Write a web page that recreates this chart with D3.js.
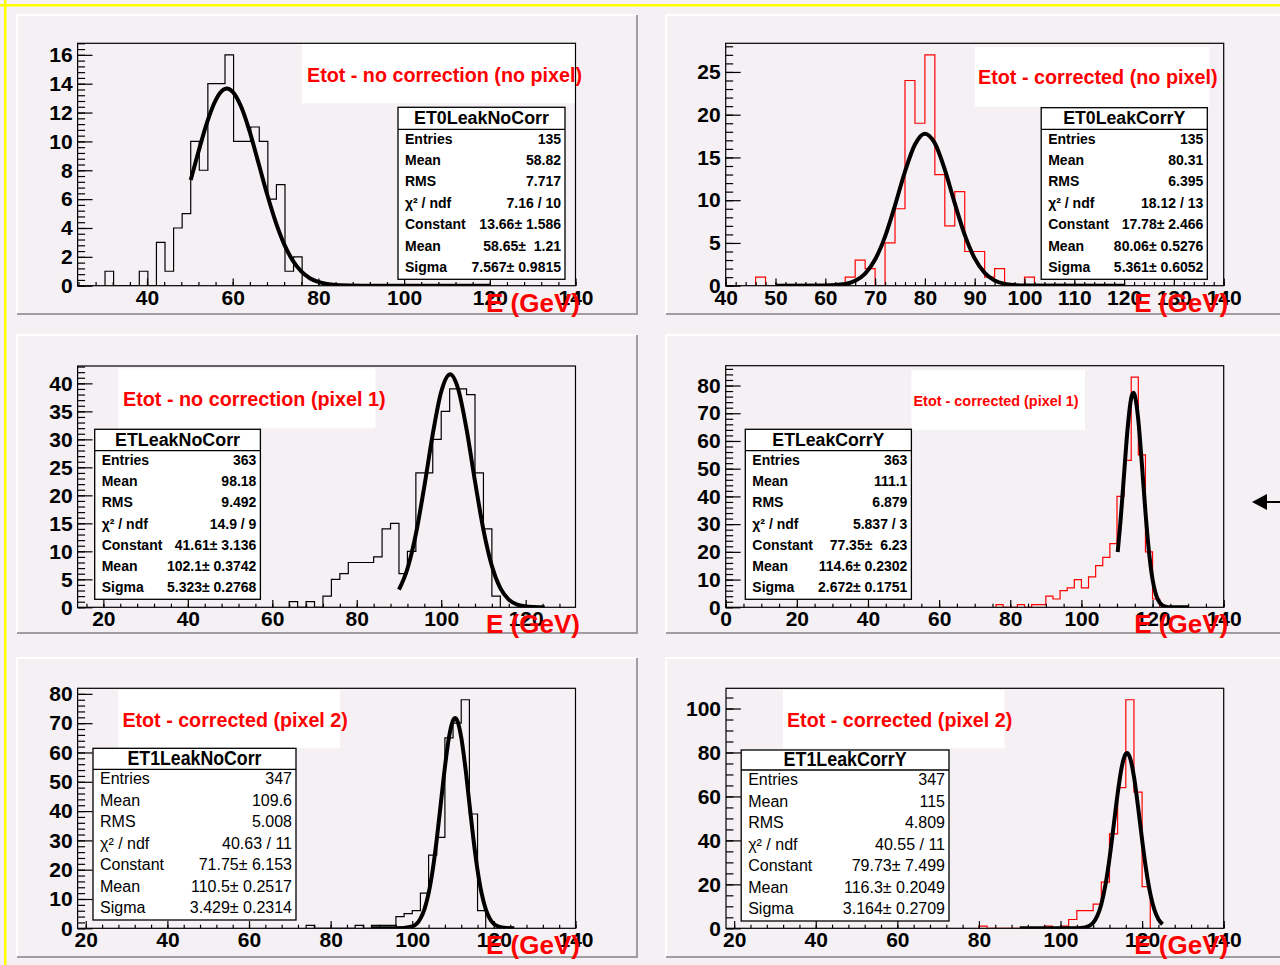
<!DOCTYPE html>
<html>
<head>
<meta charset="utf-8">
<script src="https://cdnjs.cloudflare.com/ajax/libs/d3/7.8.5/d3.min.js"></script>
<style>
  body { margin: 0; background: #f4f0f4; }
  svg { display: block; }
</style>
</head>
<body>
<div id="canvas"></div>
<script>
// histogram data: counts per 2 GeV bin, starting at the low edge given
var binWidth = 2;

var p1Start = 30.2;
var p1Counts = [1,0,0,0,1,0,3,1,4,5,10,8,14,14,16,10,10,11,10,6,7,1,2];
var p2Start = 46;
var p2Counts = [1,0,0,0,0,0,0,0,0,1,3,2,0,5,9,24,19,27,13,7,11,4,4,1,2,0,0,1];
var p3Start = 64;
var p3Counts = [1,0,1,0,2,5,6,8,8,8,9,14,15,6,10,24,24,30,35,39,39,38,24,14,2];
var p4Start = 76;
var p4Counts = [1,0,0,1,0,1,1,4,3,6,7,10,7,11,15,18,23,40,53,83,55,20,3];
var p5Start = 74;
var p5Counts = [1,0,0,0,0,0,1,0,1,1,1,4,5,6,12,25,31,65,70,78,39,6];
var p6Start = 80;
var p6Counts = [1,0,0,0,0,0,0,0,1,0,1,4,8,8,11,21,43,64,104,62,19];

// gaussian fit curves
var p1FitX = [50.2,52,54,56,58,58.65,60,62,64,66,68,70,72,74,76,78,80,82,85,90,120];
var p1FitY = [7.32,9.28,11.31,12.85,13.61,13.66,13.44,12.38,10.64,8.52,6.37,4.44,2.88,1.75,0.99,0.52,0.26,0.12,0.03,0,0];
var p2FitX = [50,60,64,66,68,70,72,74,76,78,80,82,84,86,88,90,92,94,96,98,100,120];
var p2FitY = [0,0.02,0.20,0.57,1.42,3.06,5.74,9.39,13.35,16.51,17.78,16.65,13.57,9.62,5.94,3.19,1.49,0.60,0.21,0.07,0.02,0];
var p3FitX = [90,92,94,96,98,100,102,102.1,104,106,108,110,112,114,116,118,120,122,124.5];
var p3FitY = [3.14,6.88,13.07,21.58,30.93,38.49,41.6,41.61,39.04,31.82,22.51,13.84,7.38,3.42,1.38,0.48,0.15,0.04,0];
var p4FitX = [110.2,111,112,113,114,114.6,115,116,117,118,119,120,121,122,123,124,125,130];
var p4FitY = [19.93,31.21,48.17,64.66,75.42,77.35,76.49,67.43,51.68,34.43,19.93,10.03,4.39,1.67,0.55,0.16,0.04,0];
var p5FitX = [90,96,100,102,103,104,105,106,107,108,109,110,110.5,111,112,113,114,115,116,117,118,119,121,123,125];
var p5FitY = [0,0.01,0.66,3.32,6.56,11.90,19.82,30.33,42.62,55.0,65.2,70.99,71.75,70.99,65.2,55.0,42.62,30.33,19.82,11.90,6.56,3.32,0.66,0.09,0.01];
var p6FitX = [90,104,106,108,109,110,111,112,113,114,115,116,116.3,117,118,119,120,121,122,123,124,125];
var p6FitY = [0,0.04,0.40,2.55,5.57,10.99,19.60,31.66,46.28,61.22,73.28,79.37,79.73,77.80,69.01,55.40,40.24,26.45,15.74,8.47,4.13,1.82];

// labels and stat boxes
var p1Label = "Etot - no correction (no pixel)";
var p2Label = "Etot - corrected (no pixel)";
var p3Label = "Etot - no correction (pixel 1)";
var p4Label = "Etot - corrected (pixel 1)";
var p5Label = "Etot - corrected (pixel 2)";
var p6Label = "Etot - corrected (pixel 2)";

var p1Title = "ET0LeakNoCorr";
var p2Title = "ET0LeakCorrY";
var p3Title = "ETLeakNoCorr";
var p4Title = "ETLeakCorrY";
var p5Title = "ET1LeakNoCorr";
var p6Title = "ET1LeakCorrY";

var statNames = ["Entries", "Mean", "RMS", "\u03c7\u00b2 / ndf", "Constant", "Mean", "Sigma"];
var p1Stats = ["135", "58.82", "7.717", "7.16 / 10", "13.66\u00b1 1.586", "58.65\u00b1  1.21", "7.567\u00b1 0.9815"];
var p2Stats = ["135", "80.31", "6.395", "18.12 / 13", "17.78\u00b1 2.466", "80.06\u00b1 0.5276", "5.361\u00b1 0.6052"];
var p3Stats = ["363", "98.18", "9.492", "14.9 / 9", "41.61\u00b1 3.136", "102.1\u00b1 0.3742", "5.323\u00b1 0.2768"];
var p4Stats = ["363", "111.1", "6.879", "5.837 / 3", "77.35\u00b1  6.23", "114.6\u00b1 0.2302", "2.672\u00b1 0.1751"];
var p5Stats = ["347", "109.6", "5.008", "40.63 / 11", "71.75\u00b1 6.153", "110.5\u00b1 0.2517", "3.429\u00b1 0.2314"];
var p6Stats = ["347", "115", "4.809", "40.55 / 11", "79.73\u00b1 7.499", "116.3\u00b1 0.2049", "3.164\u00b1 0.2709"];

var axisTitle = "E (GeV)";

// set up svg
var svgWidth = 1280;
var svgHeight = 965;
var bg = "#f4f0f4";
var font = "'Liberation Sans', Arial, Helvetica, sans-serif";

var svg = d3.select("#canvas")
  .append("svg")
  .attr("width", svgWidth)
  .attr("height", svgHeight);

svg.append("rect").attr("width", svgWidth).attr("height", svgHeight).attr("fill", bg);

// panel layouts
var panels = [
  { pad: [17, 15, 637, 314], frame: [77.6, 43.3, 575.5, 285.7], xDomain: [23.8, 140], yMax: 16.8,
    xMajor: [40, 140, 20], xMinor: [24, 140, 4], yMajor: [0, 16, 2], yMinor: [0, 16.8, 0.4],
    start: p1Start, counts: p1Counts, color: "#000", fitX: p1FitX, fitY: p1FitY,
    label: p1Label, labelBox: [302, 43.3, 575.5, 103.3], labelPos: [307, 82, 275, 20],
    title: p1Title, stats: p1Stats, statBox: [398, 107.3, 565, 279.3, 129.3], statFont: 14, statBold: true, titleW: 135 },
  { pad: [666, 15, 1290, 314], frame: [725.7, 43.3, 1223.7, 285.7], xDomain: [40, 140], yMax: 28.35,
    xMajor: [40, 140, 10], xMinor: [40, 140, 2], yMajor: [0, 25, 5], yMinor: [0, 28, 1],
    start: p2Start, counts: p2Counts, color: "#ff0000", fitX: p2FitX, fitY: p2FitY,
    label: p2Label, labelBox: [974.7, 46.7, 1209.4, 106.7], labelPos: [978, 84.3, 239.6, 20],
    title: p2Title, stats: p2Stats, statBox: [1041.2, 107.7, 1207.3, 279.3, 129.3], statFont: 14, statBold: true, titleW: 122 },
  { pad: [17, 335, 637, 633], frame: [77.6, 366, 575.5, 607.3], xDomain: [13.9, 131.8], yMax: 43.1,
    xMajor: [20, 120, 20], xMinor: [16, 128, 4], yMajor: [0, 40, 5], yMinor: [0, 43, 1],
    start: p3Start, counts: p3Counts, color: "#000", fitX: p3FitX, fitY: p3FitY,
    label: p3Label, labelBox: [118.4, 368.3, 375.5, 428.3], labelPos: [123, 406.3, 262.7, 20],
    title: p3Title, stats: p3Stats, statBox: [94.7, 429.3, 260.4, 599.3, 450.7], statFont: 14, statBold: true, titleW: 125 },
  { pad: [666, 335, 1290, 633], frame: [725.7, 365.7, 1223.7, 607.3], xDomain: [0, 140], yMax: 87.15,
    xMajor: [0, 140, 20], xMinor: [0, 140, 5], yMajor: [0, 80, 10], yMinor: [0, 86, 2],
    start: p4Start, counts: p4Counts, color: "#ff0000", fitX: p4FitX, fitY: p4FitY,
    label: p4Label, labelBox: [911.4, 370, 1084.9, 430], labelPos: [913.5, 406, 165, 14],
    title: p4Title, stats: p4Stats, statBox: [745.3, 429.3, 911.4, 599.3, 450.7], statFont: 14, statBold: true, titleW: 112 },
  { pad: [17, 658, 637, 957], frame: [77.6, 688.3, 575.5, 928.3], xDomain: [18, 140], yMax: 81.9,
    xMajor: [20, 140, 20], xMinor: [20, 140, 4], yMajor: [0, 80, 10], yMinor: [0, 80, 2],
    start: p5Start, counts: p5Counts, color: "#000", fitX: p5FitX, fitY: p5FitY,
    label: p5Label, labelBox: [118.4, 690, 340, 748.3], labelPos: [122.4, 727, 225.4, 20],
    title: p5Title, stats: p5Stats, statBox: [93, 748.3, 296, 920, 769.3], statFont: 16, statBold: false, titleW: 134 },
  { pad: [666, 658, 1290, 957], frame: [726, 688.3, 1223.7, 928.3], xDomain: [18, 140], yMax: 109.2,
    xMajor: [20, 140, 20], xMinor: [20, 140, 4], yMajor: [0, 100, 20], yMinor: [0, 105, 5],
    start: p6Start, counts: p6Counts, color: "#ff0000", fitX: p6FitX, fitY: p6FitY,
    label: p6Label, labelBox: [782.9, 690, 1004.5, 748.3], labelPos: [787, 727, 225.2, 20],
    title: p6Title, stats: p6Stats, statBox: [741.2, 750, 949, 921, 770], statFont: 16, statBold: false, titleW: 123 }
];

// yellow canvas edges
svg.append("rect").attr("x", 0).attr("y", 4).attr("width", svgWidth).attr("height", 2.5).attr("fill", "#ffff00");
svg.append("rect").attr("x", 4).attr("y", 0).attr("width", 2.5).attr("height", svgHeight).attr("fill", "#ffff00");

function ticks(spec) {
  return d3.range(spec[0], spec[1] + 1e-6, spec[2]);
}

panels.forEach(function(p, i) {
  var g = svg.append("g");
  var f = p.frame;

  // pad with bevelled border
  g.append("rect").attr("x", p.pad[0]).attr("y", p.pad[1])
    .attr("width", p.pad[2] - p.pad[0]).attr("height", p.pad[3] - p.pad[1]).attr("fill", bg);
  g.append("path").attr("d", `M${p.pad[0]},${p.pad[3]}V${p.pad[1]}H${p.pad[2]}`)
    .attr("fill", "none").attr("stroke", "#ffffff").attr("stroke-width", 2);
  g.append("path").attr("d", `M${p.pad[0]},${p.pad[3]}H${p.pad[2]}V${p.pad[1]}`)
    .attr("fill", "none").attr("stroke", "#a09ca0").attr("stroke-width", 2);

  var x = d3.scaleLinear().domain(p.xDomain).range([f[0], f[2]]);
  var y = d3.scaleLinear().domain([0, p.yMax]).range([f[3], f[1]]);

  // white label box
  g.append("rect").attr("x", p.labelBox[0]).attr("y", p.labelBox[1])
    .attr("width", p.labelBox[2] - p.labelBox[0]).attr("height", p.labelBox[3] - p.labelBox[1])
    .attr("fill", "#ffffff");

  // clip to frame
  g.append("clipPath").attr("id", "clip" + i).append("rect")
    .attr("x", f[0]).attr("y", f[1]).attr("width", f[2] - f[0]).attr("height", f[3] - f[1]);

  // histogram outline
  var pts = [[p.start, 0]];
  p.counts.forEach(function(c, k) {
    pts.push([p.start + k * binWidth, c]);
    pts.push([p.start + (k + 1) * binWidth, c]);
  });
  pts.push([p.start + p.counts.length * binWidth, 0]);

  g.append("path")
    .datum(pts)
    .attr("clip-path", `url(#clip${i})`)
    .attr("d", d3.line().x(d => x(d[0])).y(d => y(d[1])))
    .attr("fill", "none")
    .attr("stroke", p.color)
    .attr("stroke-width", 1.2);

  // fit curve
  var fit = p.fitX.map((v, k) => [v, p.fitY[k]]);
  g.append("path")
    .datum(fit)
    .attr("clip-path", `url(#clip${i})`)
    .attr("d", d3.line().curve(d3.curveMonotoneX).x(d => x(d[0])).y(d => y(d[1])))
    .attr("fill", "none")
    .attr("stroke", "#000")
    .attr("stroke-width", 4)
    .attr("stroke-linejoin", "round");

  // frame
  g.append("rect").attr("x", f[0]).attr("y", f[1]).attr("width", f[2] - f[0]).attr("height", f[3] - f[1])
    .attr("fill", "none").attr("stroke", "#000").attr("stroke-width", 1.2);

  // axes: ticks point inward, ROOT style
  var xLen = 0.03 * (f[3] - f[1]);
  var yLen = 0.03 * (f[2] - f[0]);

  var xMinorAxis = g.append("g").attr("transform", `translate(0, ${f[3]})`)
    .call(d3.axisBottom(x).tickValues(ticks(p.xMinor)).tickSize(-xLen / 2).tickFormat(""));
  var xAxis = g.append("g").attr("transform", `translate(0, ${f[3]})`)
    .call(d3.axisBottom(x).tickValues(ticks(p.xMajor)).tickSize(-xLen).tickPadding(4).tickFormat(d3.format("d")));
  var yMinorAxis = g.append("g").attr("transform", `translate(${f[0]}, 0)`)
    .call(d3.axisLeft(y).tickValues(ticks(p.yMinor)).tickSize(-yLen / 2).tickFormat(""));
  var yAxis = g.append("g").attr("transform", `translate(${f[0]}, 0)`)
    .call(d3.axisLeft(y).tickValues(ticks(p.yMajor)).tickSize(-yLen).tickPadding(5).tickFormat(d3.format("d")));

  [xMinorAxis, xAxis, yMinorAxis, yAxis].forEach(function(a) {
    a.select(".domain").remove();
    a.selectAll("line").attr("stroke", "#000").attr("stroke-width", 1.2);
    a.selectAll("text")
      .attr("font-family", font)
      .attr("font-size", "21px")
      .attr("font-weight", "bold")
      .attr("fill", "#000");
  });

  // stat box
  var s = p.statBox;
  var sb = g.append("g");
  sb.append("rect").attr("x", s[0]).attr("y", s[1]).attr("width", s[2] - s[0]).attr("height", s[3] - s[1])
    .attr("fill", "#fff").attr("stroke", "#000").attr("stroke-width", 1.3);
  sb.append("line").attr("x1", s[0]).attr("x2", s[2]).attr("y1", s[4]).attr("y2", s[4])
    .attr("stroke", "#000").attr("stroke-width", 1.3);
  sb.append("text")
    .attr("x", (s[0] + s[2]) / 2 - p.titleW / 2)
    .attr("y", (s[1] + s[4]) / 2 + p.statFont * 0.4)
    .attr("textLength", p.titleW)
    .attr("lengthAdjust", "spacingAndGlyphs")
    .attr("font-family", font)
    .attr("font-size", (p.statFont + 4) + "px")
    .attr("font-weight", "bold")
    .text(p.title);

  var rowH = (s[3] - s[4]) / statNames.length;
  statNames.forEach(function(name, k) {
    var cy = s[4] + rowH * (k + 0.5) - 1.5;
    sb.append("text")
      .attr("x", s[0] + 7)
      .attr("y", cy + p.statFont * 0.36)
      .attr("font-family", font)
      .attr("font-size", p.statFont + "px")
      .attr("font-weight", p.statBold ? "bold" : "normal")
      .attr("xml:space", "preserve")
      .text(name);
    sb.append("text")
      .attr("x", s[2] - 4)
      .attr("y", cy + p.statFont * 0.36)
      .attr("text-anchor", "end")
      .attr("font-family", font)
      .attr("font-size", p.statFont + "px")
      .attr("font-weight", p.statBold ? "bold" : "normal")
      .attr("xml:space", "preserve")
      .text(p.stats[k]);
  });

  // red label text
  g.append("text")
    .attr("x", p.labelPos[0])
    .attr("y", p.labelPos[1])
    .attr("textLength", p.labelPos[2])
    .attr("lengthAdjust", "spacingAndGlyphs")
    .attr("font-family", font)
    .attr("font-size", p.labelPos[3] + "px")
    .attr("font-weight", "bold")
    .attr("fill", "#ff0000")
    .text(p.label);

  // axis title
  g.append("text")
    .attr("x", f[2] + 4.5 - 94)
    .attr("y", f[3] + 26)
    .attr("textLength", 94)
    .attr("lengthAdjust", "spacingAndGlyphs")
    .attr("font-family", font)
    .attr("font-size", "26px")
    .attr("font-weight", "bold")
    .attr("fill", "#ff0000")
    .text(axisTitle);
});

// arrow at right edge
svg.append("path").attr("d", "M1252,502L1267,494L1267,510Z").attr("fill", "#000");
svg.append("line").attr("x1", 1266).attr("x2", 1280).attr("y1", 502).attr("y2", 502)
  .attr("stroke", "#000").attr("stroke-width", 2);
</script>
</body>
</html>
